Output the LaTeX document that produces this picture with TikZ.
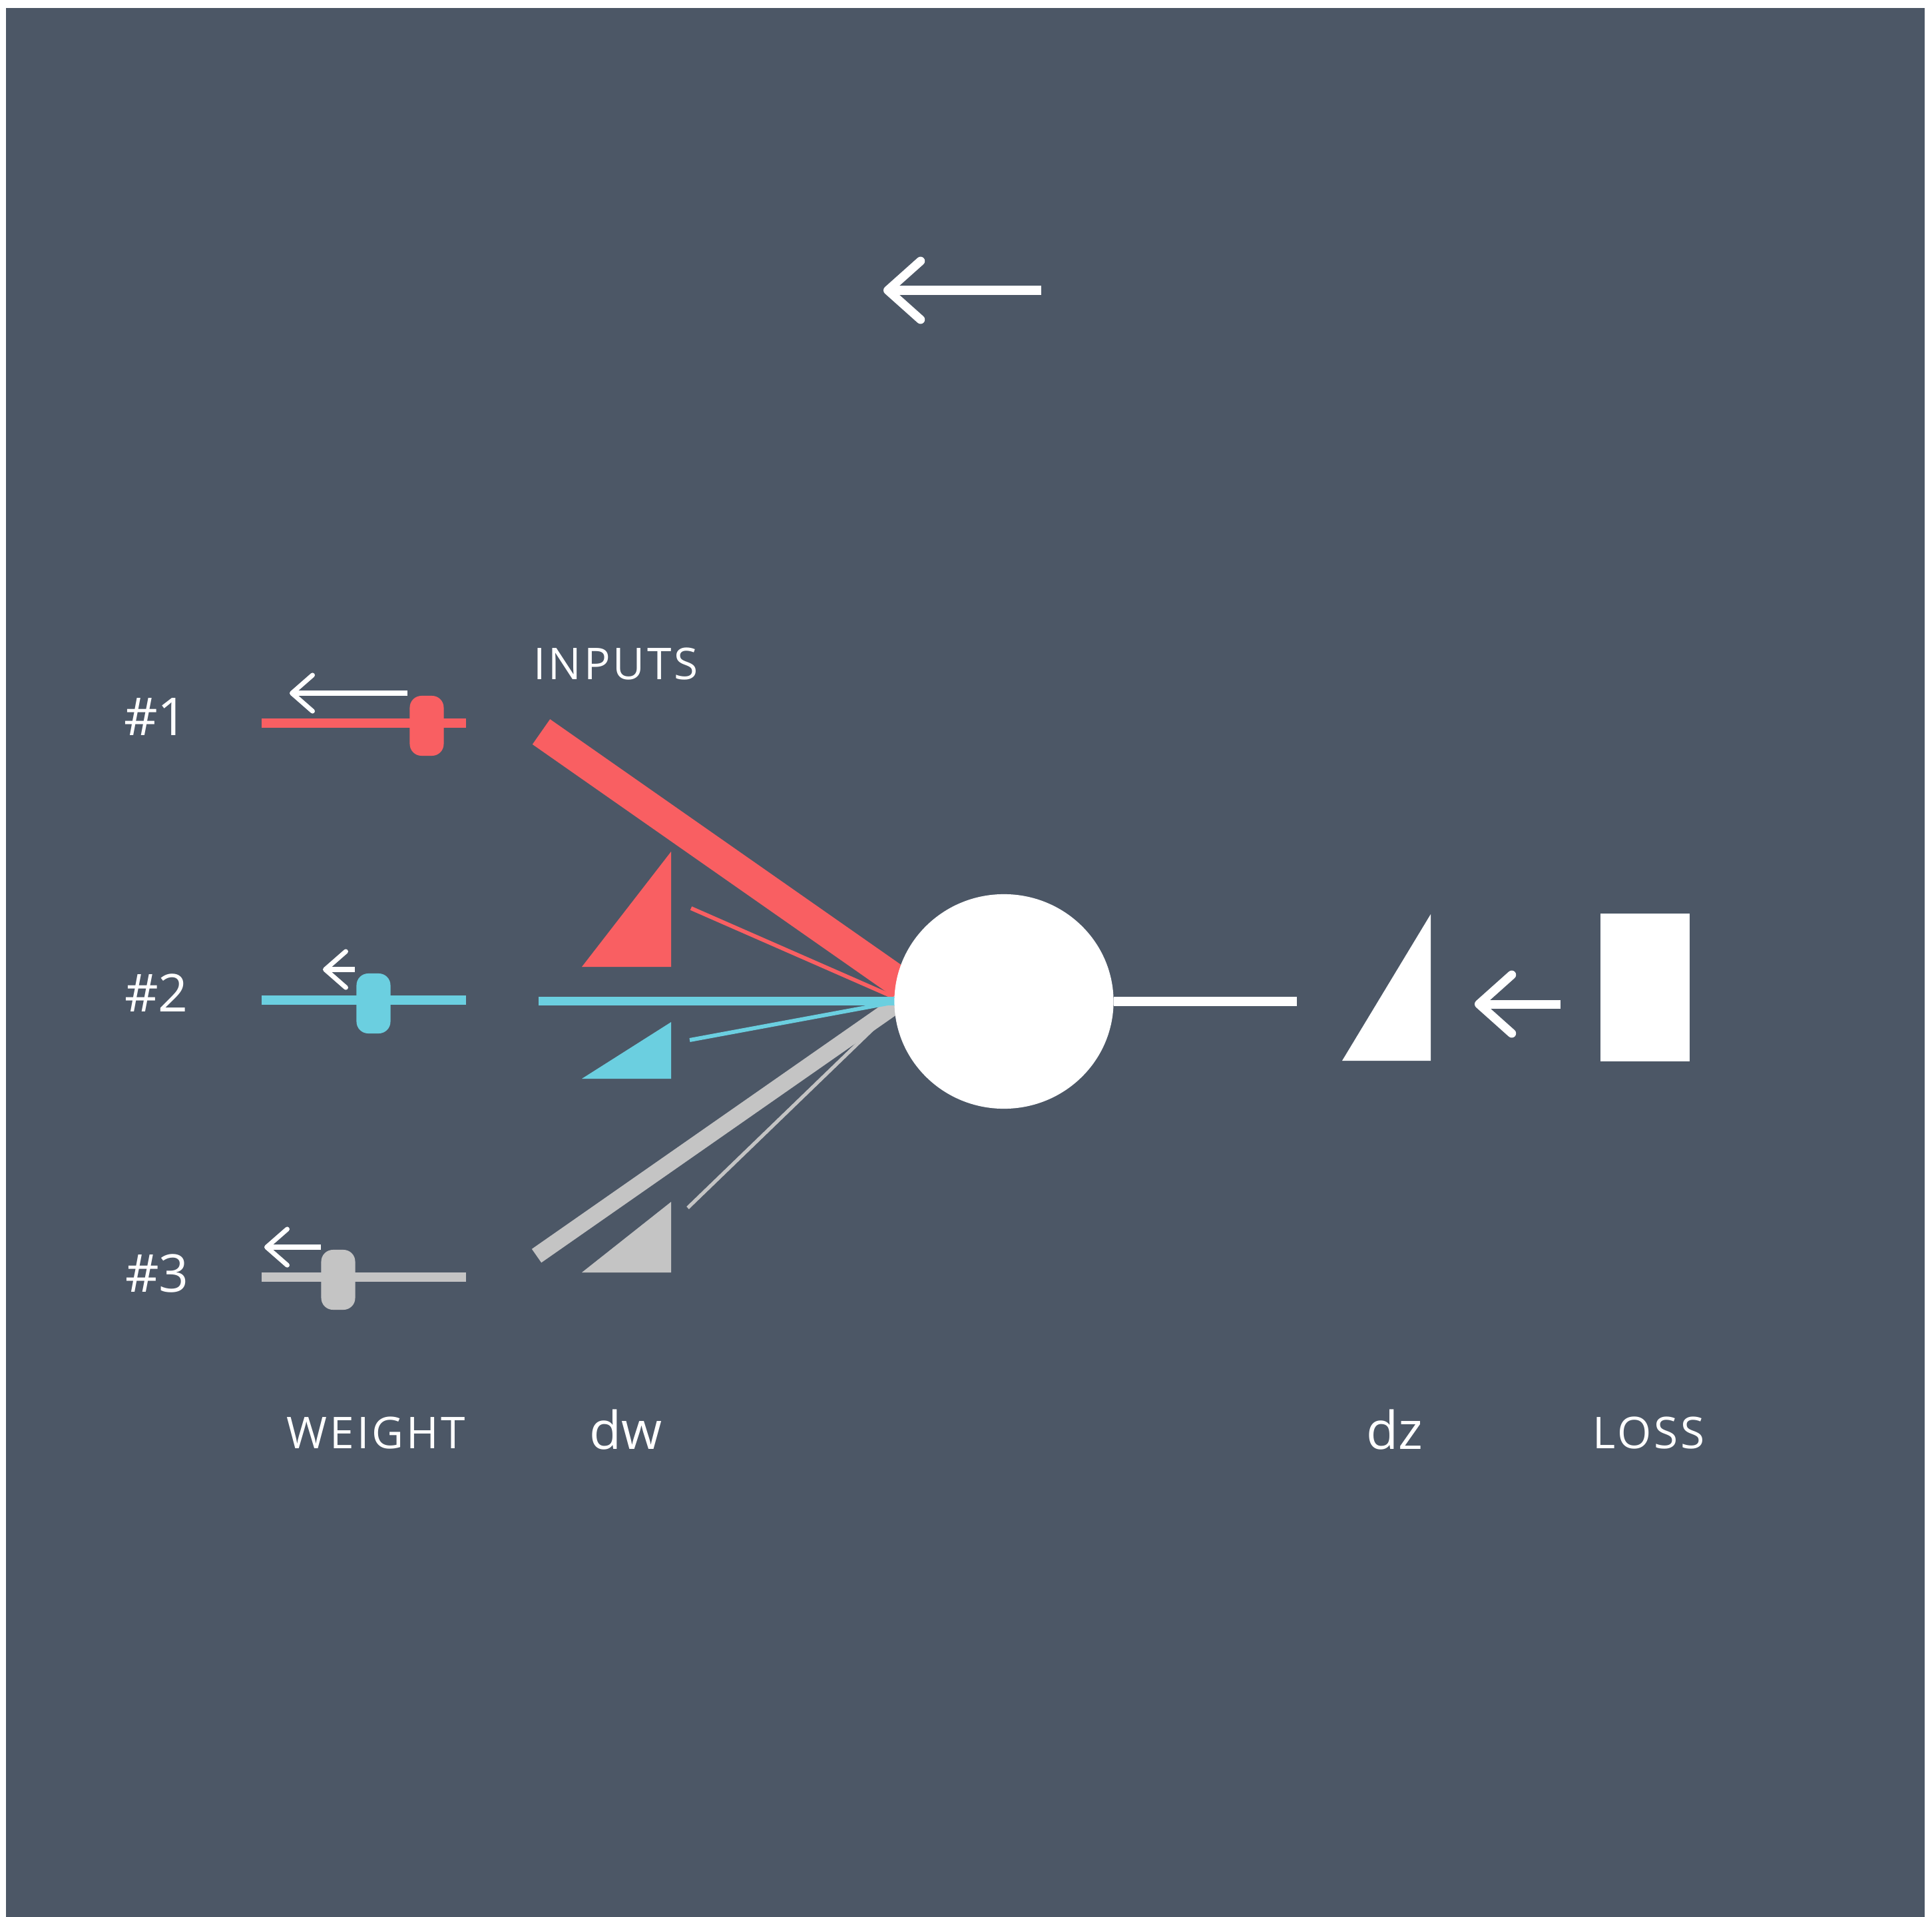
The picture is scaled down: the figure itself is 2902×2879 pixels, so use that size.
\documentclass[tikz,border=0pt]{standalone}
\usepackage{fontspec}
\setmainfont{Open Sans}
\newfontfamily\capsfont[LetterSpace=6]{Open Sans}
\usetikzlibrary{arrows.meta,positioning,shapes.geometric}

\definecolor{slate}{HTML}{4C5766}
\definecolor{coral}{HTML}{F95F62}
\definecolor{sky}{HTML}{6BCFE0}
\definecolor{ash}{HTML}{C4C4C4}

\begin{document}
\begin{tikzpicture}[x=0.01cm, y=-0.01cm,
    caption/.style={text=white, inner sep=0pt, font=\capsfont\fontsize{18.7}{20}\selectfont},
    numlbl/.style={text=white, inner sep=0pt, font=\fontsize{22.3}{24}\selectfont},
    track/.style={line width=4pt},
    knob/.style={inner sep=0pt, minimum width=0.51cm, minimum height=0.9cm, rounded corners=5pt},
    nudge/.style={draw=white, line width=2pt, -{Straight Barb[length=8.8pt, width=15.4pt, round]}},
    push/.style={draw=white, line width=3.7pt, -{Straight Barb[length=14pt, width=25pt, round]}}
  ]
  \fill[white] (0,0) rectangle (2902,2879);
  \fill[slate] (9,12) rectangle (2891,2879);

  \coordinate (topR) at (1564,436);
  \coordinate (topL) at (1327,436);
  \draw[push] (topR) -- (topL);

  \node[caption] (inputs) at (925,997) {INPUTS};
  \node[numlbl] (in1) at (234,1077) {\#1};
  \node[numlbl] (in2) at (235,1491) {\#2};
  \node[numlbl] (in3) at (236,1912) {\#3};

  % weight sliders
  \coordinate (w1a) at (393,1086); \coordinate (w1b) at (700,1086);
  \coordinate (w2a) at (393,1502); \coordinate (w2b) at (700,1502);
  \coordinate (w3a) at (393,1918); \coordinate (w3b) at (700,1918);
  \draw[track, coral] (w1a) -- (w1b);
  \draw[track, sky] (w2a) -- (w2b);
  \draw[track, ash] (w3a) -- (w3b);
  \node[knob, fill=coral] (k1) at (641,1090) {};
  \node[knob, fill=sky] (k2) at (561,1507) {};
  \node[knob, fill=ash] (k3) at (508,1922) {};

  \coordinate (a1r) at (612,1041); \coordinate (a1l) at (435,1041);
  \coordinate (a2r) at (533,1456); \coordinate (a2l) at (485,1456);
  \coordinate (a3r) at (482,1873); \coordinate (a3l) at (397,1873);
  \draw[nudge] (a1r) -- (a1l);
  \draw[nudge] (a2r) -- (a2l);
  \draw[nudge] (a3r) -- (a3l);

  % dw slopes
  \fill[coral] (1008,1279) -- (1008,1452) -- (874,1452) -- cycle;
  \fill[sky] (1008,1535) -- (1008,1620) -- (874,1620) -- cycle;
  \fill[ash] (1008,1805) -- (1008,1911) -- (874,1911) -- cycle;

  \coordinate (hub) at (1355,1503);
  \coordinate (hubR) at (1392,1504);
  \coordinate (s1) at (813,1099);
  \coordinate (s1t) at (1038,1364);
  \coordinate (s2) at (809,1503);
  \coordinate (s2t) at (1036,1562);
  \coordinate (s3) at (806,1886);
  \coordinate (s3t) at (1033,1814);
  \draw[coral, line width=13.1pt] (s1) -- (hubR);
  \draw[coral, line width=1.7pt] (s1t) -- (hub);
  \draw[ash, line width=7.1pt] (s3) -- (hub);
  \draw[ash, line width=1.5pt] (s3t) -- (hub);
  \draw[sky, line width=3.7pt] (s2) -- (hub);
  \draw[sky, line width=1.7pt] (s2t) -- (hub);

  \node[ellipse, fill=white, inner sep=0pt, minimum width=3.29cm, minimum height=3.22cm] (neuron) at (1508,1504) {};
  \coordinate (zOut) at (1948,1504);
  \draw[white, line width=4pt] (neuron.east) -- (zOut);

  \fill[white] (2149,1373) -- (2149,1593) -- (2016,1593) -- cycle;
  \coordinate (gradR) at (2344,1508);
  \coordinate (gradL) at (2215,1508);
  \draw[push] (gradR) -- (gradL);
  \node[fill=white, inner sep=0pt, minimum width=1.34cm, minimum height=2.22cm] (loss) at (2471,1483) {};

  \node[caption, anchor=base] (weight) at (565,2175) {WEIGHT};
  \node[numlbl, anchor=base] (dw) at (940,2176) {dw};
  \node[numlbl, anchor=base] (dz) at (2095,2176) {dz};
  \node[caption, anchor=base] (losslbl) at (2477,2175) {LOSS};
\end{tikzpicture}
\end{document}
